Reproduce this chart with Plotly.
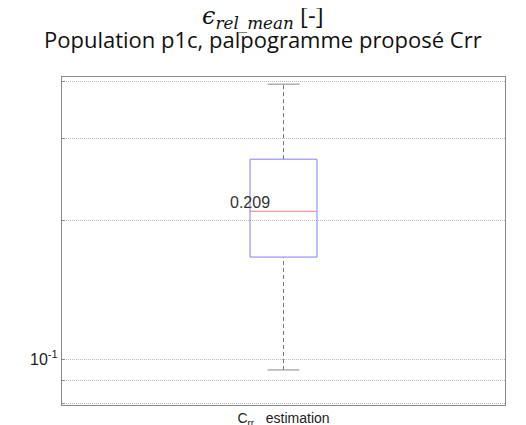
import math
import plotly.graph_objects as go

# data
category = ["C<sub>rr</sub>   estimation"]
q1 = [0.1663]
median = [0.209]
q3 = [0.271]
lower_whisker = [0.0947]
upper_whisker = [0.394]
median_label = ["0.209"]
ytick_vals = [0.08, 0.09, 0.1, 0.2, 0.3, 0.4]
ytick_text = ["", "", "10<sup>-1</sup>", "", "", ""]

xc = 1.0
hw = 0.0756   # box half width
cw = 0.036    # cap half width

fig = go.Figure()
# whiskers (dashed)
fig.add_trace(go.Scatter(x=[xc, xc, None, xc, xc],
                         y=[q3[0], upper_whisker[0], None, lower_whisker[0], q1[0]],
                         mode="lines", line=dict(color="#777777", width=1, dash="4px,3px"),
                         showlegend=False, hoverinfo="skip"))
# caps
fig.add_trace(go.Scatter(x=[xc - cw, xc + cw, None, xc - cw, xc + cw],
                         y=[upper_whisker[0], upper_whisker[0], None, lower_whisker[0], lower_whisker[0]],
                         mode="lines", line=dict(color="#888888", width=1),
                         showlegend=False, hoverinfo="skip"))
# box
fig.add_trace(go.Scatter(x=[xc - hw, xc + hw, xc + hw, xc - hw, xc - hw],
                         y=[q1[0], q1[0], q3[0], q3[0], q1[0]],
                         mode="lines", line=dict(color="#8080ff", width=1),
                         showlegend=False, hoverinfo="skip"))
# median
fig.add_trace(go.Scatter(x=[xc - hw, xc + hw], y=[median[0], median[0]],
                         mode="lines", line=dict(color="#f08080", width=1),
                         showlegend=False, hoverinfo="skip"))

fig.add_annotation(x=xc - hw, y=math.log10(median[0]), text=median_label[0],
                   showarrow=False, xanchor="center", yanchor="bottom", yshift=-2,
                   font=dict(family="Liberation Sans, Arial", size=16, color="#333333"))

# title lines
title_x = 0.4537
fig.add_annotation(xref="paper", yref="paper", x=title_x, y=1, xanchor="center", yanchor="middle",
                   yshift=62, showarrow=False,
                   text="<span style='font-family:DejaVu Serif;font-style:italic'>ϵ<sub>rel_mean</sub></span> [-]",
                   font=dict(family="Open Sans", size=24, color="#111111"))
fig.add_annotation(xref="paper", yref="paper", x=title_x, y=1, xanchor="center", yanchor="middle",
                   yshift=38, showarrow=False,
                   text="Population p1c, palpogramme proposé Crr",
                   font=dict(family="Open Sans", size=22, color="#111111"))

fig.update_layout(
    width=518, height=417,
    margin=dict(l=54, r=21, t=69, b=20),
    paper_bgcolor="white", plot_bgcolor="white",
)
fig.update_xaxes(range=[0.5, 1.5], tickvals=[xc], ticktext=category, automargin=False,
                 showgrid=False, zeroline=False, showline=True, linecolor="#888888",
                 mirror=True, ticks="", ticklabelstandoff=0,
                 tickfont=dict(family="Liberation Sans, Arial", size=14, color="#222222"))
fig.update_yaxes(type="log", range=[-1.0996, -0.389], tickvals=ytick_vals, ticktext=ytick_text,
                 automargin=False,
                 showgrid=True, gridcolor="#bbbbbb", griddash="1px,1px", gridwidth=1,
                 zeroline=False, showline=True, linecolor="#888888", mirror=True,
                 ticks="inside", ticklen=3, tickcolor="#888888",
                 tickfont=dict(family="Liberation Sans, Arial", size=16, color="#222222"))

fig.write_html("out.html")
